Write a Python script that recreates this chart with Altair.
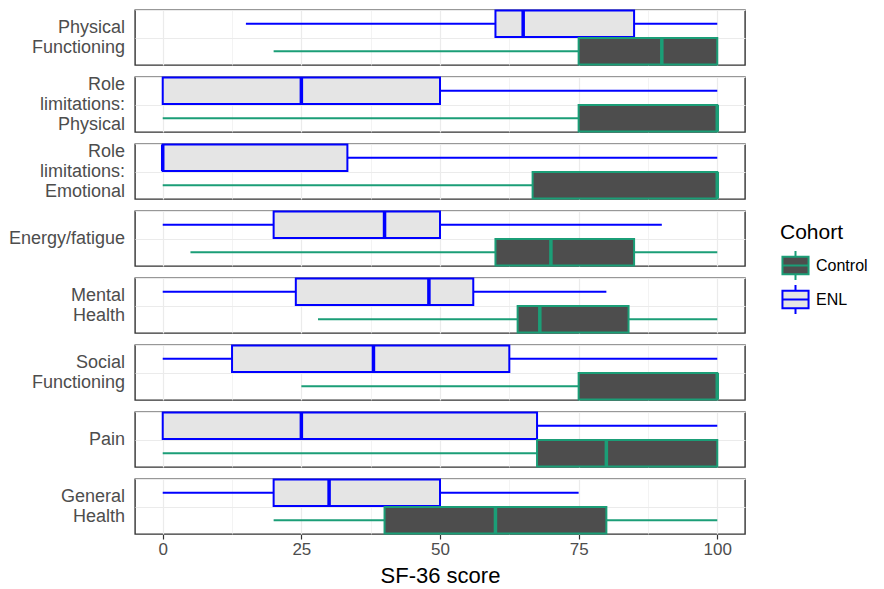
import altair as alt
import pandas as pd

measures = ["Physical|Functioning", "Role|limitations:|Physical", "Role|limitations:|Emotional",
            "Energy/fatigue", "Mental|Health", "Social|Functioning", "Pain", "General|Health"]
cohorts = ["ENL", "Control"]

enl_lower = [15, 0, 0, 0, 0, 0, 0, 0]
enl_q1 = [60, 0, 0, 20, 24, 12.5, 0, 20]
enl_median = [65, 25, 0, 40, 48, 38, 25, 30]
enl_q3 = [85, 50, 33.3, 50, 56, 62.5, 67.5, 50]
enl_upper = [100, 100, 100, 90, 80, 100, 100, 75]

ctl_lower = [20, 0, 0, 5, 28, 25, 0, 20]
ctl_q1 = [75, 75, 66.7, 60, 64, 75, 67.5, 40]
ctl_median = [90, 100, 100, 70, 68, 100, 80, 60]
ctl_q3 = [100, 100, 100, 85, 84, 100, 100, 80]
ctl_upper = [100, 100, 100, 100, 100, 100, 100, 100]

rows = []
for i, m in enumerate(measures):
    rows.append(dict(measure=m, cohort="ENL", lower=enl_lower[i], q1=enl_q1[i],
                     median=enl_median[i], q3=enl_q3[i], upper=enl_upper[i]))
    rows.append(dict(measure=m, cohort="Control", lower=ctl_lower[i], q1=ctl_q1[i],
                     median=ctl_median[i], q3=ctl_q3[i], upper=ctl_upper[i]))
df = pd.DataFrame(rows)

FONT = "Liberation Sans"
fill_scale = alt.Scale(domain=["Control", "ENL"], range=["#4D4D4D", "#E5E5E5"])
stroke_scale = alt.Scale(domain=["Control", "ENL"], range=["#1B9E77", "#0000FF"])
xscale = alt.Scale(domain=[-5, 105], nice=False, zero=False)

grid_vals = [0, 12.5, 25, 37.5, 50, 62.5, 75, 87.5, 100]
xaxis = alt.Axis(
    values=grid_vals, title="SF-36 score", domain=False,
    labelExpr="datum.value % 25 == 0 ? datum.label : ''",
    gridColor="#EBEBEB",
    gridWidth=alt.ExprRef(expr="datum.value % 25 == 0 ? 1.2 : 0.6"),
    tickOpacity=alt.ExprRef(expr="datum.value % 25 == 0 ? 1 : 0"),
    tickColor="#333333", tickSize=5, tickWidth=1.2,
    labelFont=FONT, labelFontSize=17, labelColor="#4D4D4D", labelPadding=2,
    titleFont=FONT, titleFontSize=22, titleFontWeight="normal", titleColor="black", titlePadding=8,
)
yenc = alt.Y("cohort:N", sort=cohorts,
             scale=alt.Scale(paddingInner=0.04, paddingOuter=0.02),
             axis=alt.Axis(title=None, labels=False, ticks=False, domain=False,
                           grid=True, bandPosition=0, gridColor="#EBEBEB", gridWidth=1.2))

base = alt.Chart().encode(y=yenc)

whisker = base.mark_rule(strokeWidth=2).encode(
    x=alt.X("lower:Q", scale=xscale, axis=xaxis),
    x2="upper:Q",
    stroke=alt.Stroke("cohort:N", scale=stroke_scale, title="Cohort"),
)
box = base.mark_bar(strokeWidth=2).encode(
    x="q1:Q", x2="q3:Q",
    fill=alt.Fill("cohort:N", scale=fill_scale, title="Cohort"),
    stroke=alt.Stroke("cohort:N", scale=stroke_scale, title="Cohort"),
)
median = base.mark_bar(strokeWidth=3.5, fillOpacity=0).encode(
    x="median:Q", x2="median:Q",
    stroke=alt.Stroke("cohort:N", scale=stroke_scale, title="Cohort"),
)
label = alt.Chart().transform_filter(alt.datum.cohort == "ENL").mark_text(
    align="right", baseline="middle", lineBreak="|", font=FONT, fontSize=18,
    color="#4D4D4D", lineHeight=20,
    dy=alt.ExprRef(expr="-(length(split(datum.measure, '|')) - 1) * 10"),
).encode(text="measure:N", x=alt.value(-10), y=alt.value(27.5))

layered = alt.layer(whisker, box, median, label, data=df).properties(width=610, height=55)

chart = layered.facet(
    row=alt.Row("measure:N", sort=measures, header=alt.Header(title=None, labels=False)),
    spacing=12, bounds="flush",
).configure_view(
    stroke="#333333", strokeWidth=1.4
).configure_legend(
    orient="none", legendX=645, legendY=212,
    symbolType="M-0.9,-0.6L0.9,-0.6L0.9,0.6L-0.9,0.6Z M-0.9,0L0.9,0 M0,-0.6L0,-1 M0,0.6L0,1",
    symbolSize=841, symbolStrokeWidth=2, rowPadding=-4,
    titleFont=FONT, titleFontSize=21, titleFontWeight="normal", titleColor="black",
    labelFont=FONT, labelFontSize=16, labelColor="black", labelOffset=5, titlePadding=7,
).properties(padding={"left": 0, "top": 0, "right": 0, "bottom": 0})

chart.save("out.html", embed_options={"renderer": "svg", "actions": False})
